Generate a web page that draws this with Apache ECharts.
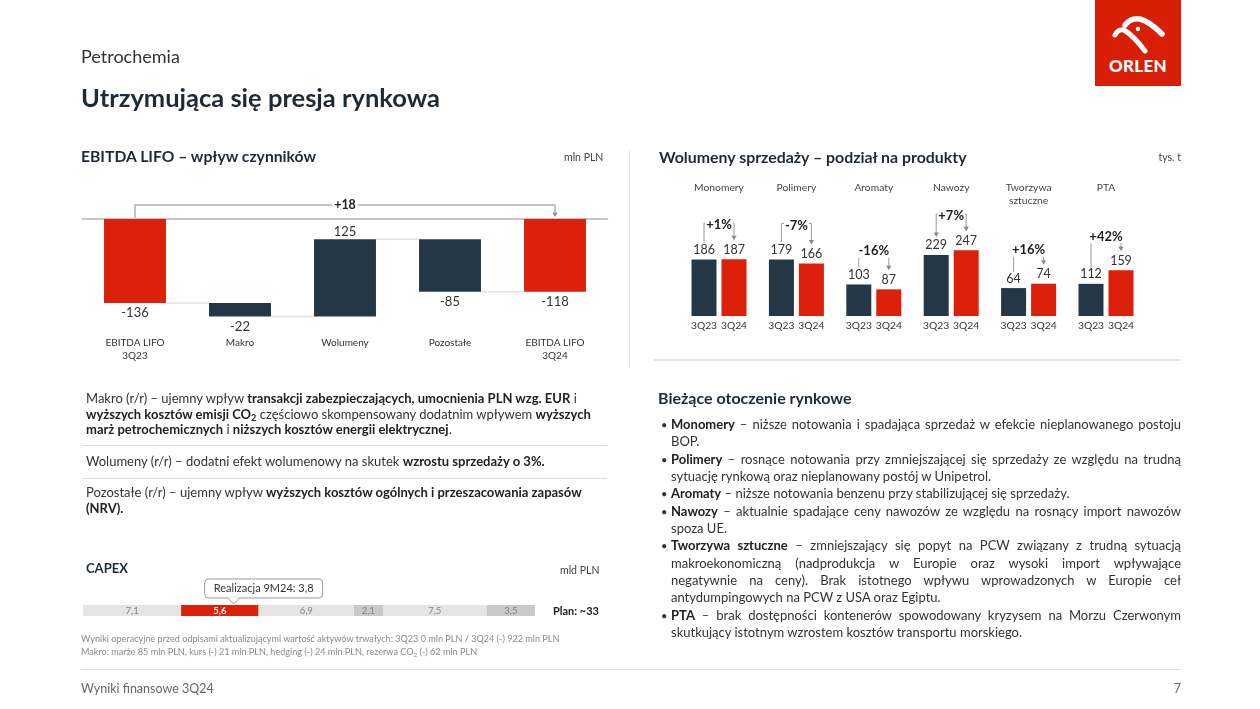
<!DOCTYPE html>
<html><head><meta charset="utf-8">
<script src="https://cdn.jsdelivr.net/npm/echarts@6.0.0/dist/echarts.min.js"></script>
<style>
html,body{margin:0;padding:0;background:#fff;}
body{width:1260px;height:709px;position:relative;overflow:hidden;font-family:Lato,"Noto Sans",sans-serif;color:#333;}
#chart{position:absolute;left:0;top:0;width:1260px;height:709px;}
.t{position:absolute;white-space:nowrap;pointer-events:none;z-index:2;}
.hline{position:absolute;height:1px;background:#dcdcdc;z-index:2;}
.jl{text-align:justify;text-align-last:justify;white-space:nowrap;}
.ll{text-align:left;white-space:nowrap;}
b{font-weight:700;color:#222;}
sub{font-size:0.7em;vertical-align:-0.25em;line-height:0;}
</style></head>
<body>
<div id="chart"></div>

<!-- header -->
<div class="t" style="left:81px;top:45px;font-size:18px;color:#333;">Petrochemia</div>
<div class="t" style="left:81px;top:82px;font-size:25.5px;font-weight:700;color:#1d2b38;">Utrzymująca się presja rynkowa</div>
<svg style="position:absolute;left:1095px;top:0;z-index:2" width="86" height="86" viewBox="0 0 86 86">
  <rect x="0" y="0" width="86" height="86" fill="#d81e05"/>
  <path d="M30 25 C34 20 39 18 45 19 C53 21 60 27 67 34" stroke="#fff" stroke-width="5.5" fill="none" stroke-linecap="round"/>
  <path d="M20 35 C22 31 25 29 29 30 C36 34 44 43 50 51" stroke="#fff" stroke-width="5" fill="none" stroke-linecap="round"/>
  <circle cx="43" cy="29" r="2.2" fill="#fff"/>
  <text x="43" y="72" text-anchor="middle" fill="#fff" font-family="Lato,'Open Sans',sans-serif" font-weight="900" font-size="17" letter-spacing="0.3">ORLEN</text>
</svg>

<!-- section titles -->
<div class="t" style="left:81px;top:147px;font-size:15.7px;font-weight:700;color:#1d2b38;">EBITDA LIFO – wpływ czynników</div>
<div class="t" style="left:564px;top:151px;font-size:10.5px;color:#444;">mln PLN</div>
<div class="t" style="left:659px;top:147px;font-size:15.9px;font-weight:700;color:#1d2b38;">Wolumeny sprzedaży – podział na produkty</div>
<div class="t" style="left:1152px;top:151px;font-size:10.5px;color:#444;width:29px;text-align:right;">tys. t</div>
<div style="position:absolute;left:629px;top:150px;width:1px;height:218px;background:#e6e6e6;"></div>
<div style="position:absolute;left:654px;top:359px;width:526px;height:2px;background:#e4e4e4;"></div>

<!-- left commentary -->
<div class="t" style="left:86px;top:391px;font-size:13px;line-height:15.5px;color:#333;">
Makro (r/r) – ujemny wpływ <b>transakcji zabezpieczających, umocnienia PLN wzg. EUR</b> i<br>
<b>wyższych kosztów emisji CO<sub>2</sub></b> częściowo skompensowany dodatnim wpływem <b>wyższych</b><br>
<b>marż petrochemicznych</b> i <b>niższych kosztów energii elektrycznej</b>.
</div>
<div class="hline" style="left:82px;top:445px;width:525px;"></div>
<div class="t" style="left:86px;top:454px;font-size:13px;line-height:15.5px;color:#333;">Wolumeny (r/r) – dodatni efekt wolumenowy na skutek <b>wzrostu sprzedaży o 3%.</b></div>
<div class="hline" style="left:82px;top:478px;width:525px;"></div>
<div class="t" style="left:86px;top:485px;font-size:13px;line-height:15.5px;color:#333;">
Pozostałe (r/r) – ujemny wpływ <b>wyższych kosztów ogólnych i przeszacowania zapasów</b><br><b>(NRV).</b>
</div>

<!-- capex -->
<div class="t" style="left:86px;top:560px;font-size:13px;font-weight:700;color:#1d2b38;">CAPEX</div>
<div class="t" style="left:560px;top:564px;font-size:10.5px;color:#444;">mld PLN</div>

<!-- footnotes -->
<div class="t" style="left:81px;top:632px;font-size:9.1px;color:#8a8a8a;line-height:13px;">
Wyniki operacyjne przed odpisami aktualizującymi wartość aktywów trwałych: 3Q23 0 mln PLN / 3Q24 (-) 922 mln PLN<br>
Makro: marże 85 mln PLN, kurs (-) 21 mln PLN, hedging (-) 24 mln PLN, rezerwa CO<sub>2</sub> (-) 62 mln PLN
</div>

<!-- right commentary -->
<div class="t" style="left:658px;top:388px;font-size:16px;font-weight:700;color:#1d2b38;">Bieżące otoczenie rynkowe</div>
<div id="bul" style="position:absolute;left:661px;top:416px;width:520px;font-size:13px;line-height:17.35px;color:#333;z-index:2;"></div>

<!-- footer -->
<div style="position:absolute;left:81px;top:669px;width:1100px;height:1px;background:#dedede;"></div>
<div class="t" style="left:81px;top:681px;font-size:12.5px;color:#666;">Wyniki finansowe 3Q24</div>
<div class="t" style="left:1150px;top:681px;width:31px;text-align:right;font-size:12.5px;color:#666;">7</div>

<script>
// ---------------- DATA ----------------
const wfCategories = ['EBITDA LIFO\n3Q23', 'Makro', 'Wolumeny', 'Pozostałe', 'EBITDA LIFO\n3Q24'];
const wfValues = [-136, -22, 125, -85, -118];
const wfIsTotal = [true, false, false, false, true];
const wfDeltaLabel = '+18';

const productGroups = ['Monomery', 'Polimery', 'Aromaty', 'Nawozy', 'Tworzywa\nsztuczne', 'PTA'];
const periods = ['3Q23', '3Q24'];
const volumes3Q23 = [186, 179, 103, 229, 64, 112];
const volumes3Q24 = [187, 166, 87, 247, 74, 159];
const volumeChange = ['+1%', '-7%', '-16%', '+7%', '+16%', '+42%'];

const capexValues = [7.1, 5.6, 6.9, 2.1, 7.5, 3.5];
const capexRealized9M24 = 3.8;
const capexPlanLabel = 'Plan: ~33';

const bullets = [
  ['<b>Monomery</b> – niższe notowania i spadająca sprzedaż w efekcie nieplanowanego postoju', 'BOP.'],
  ['<b>Polimery</b> – rosnące notowania przy zmniejszającej się sprzedaży ze względu na trudną', 'sytuację rynkową oraz nieplanowany postój w Unipetrol.'],
  ['<b>Aromaty</b> – niższe notowania benzenu przy stabilizującej się sprzedaży.'],
  ['<b>Nawozy</b> – aktualnie spadające ceny nawozów ze względu na rosnący import nawozów', 'spoza UE.'],
  ['<b>Tworzywa sztuczne</b> – zmniejszający się popyt na PCW związany z trudną sytuacją', 'makroekonomiczną (nadprodukcja w Europie oraz wysoki import wpływające', 'negatywnie na ceny). Brak istotnego wpływu wprowadzonych w Europie ceł', 'antydumpingowych na PCW z USA oraz Egiptu.'],
  ['<b>PTA</b> – brak dostępności kontenerów spowodowany kryzysem na Morzu Czerwonym', 'skutkujący istotnym wzrostem kosztów transportu morskiego.']
];

// ---------------- TEXT BLOCK ----------------
(function(){
  const box = document.getElementById('bul');
  let html = '';
  bullets.forEach(lines => {
    lines.forEach((ln, k) => {
      const last = k === lines.length - 1;
      html += '<div style="position:relative;padding-left:10px;width:510px;" class="' + (last ? 'll' : 'jl') + '">' +
        (k === 0 ? '<span style="position:absolute;left:0;top:0;font-size:11px;">•</span>' : '') + ln + '</div>';
    });
  });
  box.innerHTML = html;
})();

// ---------------- CHART ----------------
const FONT = 'Lato, "Noto Sans", sans-serif';
const RED = '#dc2009';
const NAVY = '#233746';
const chart = echarts.init(document.getElementById('chart'));

// waterfall data
let run = 0;
const wfData = wfValues.map((v, i) => {
  let lo, hi;
  if (wfIsTotal[i]) { lo = Math.min(0, v); hi = Math.max(0, v); run = v; }
  else { const s = run; run = s + v; lo = Math.min(s, run); hi = Math.max(s, run); }
  return [i, lo, hi, v, run];
});

function renderWaterfall(params, api) {
  const i = api.value(0), lo = api.value(1), hi = api.value(2), v = api.value(3), end = api.value(4);
  const top = api.coord([i, hi]);
  const bot = api.coord([i, lo]);
  const bw = api.size([1, 0])[0] * 0.59;
  const children = [{
    type: 'rect',
    shape: { x: top[0] - bw / 2, y: top[1], width: bw, height: bot[1] - top[1] },
    style: { fill: wfIsTotal[i] ? RED : NAVY }
  }];
  if (i < wfValues.length - 1) {
    const p = api.coord([i, end]);
    const q = api.coord([i + 1, end]);
    children.push({ type: 'line', shape: { x1: p[0] + bw / 2, y1: p[1], x2: q[0] - bw / 2, y2: q[1] },
      style: { stroke: '#e3e3e3', lineWidth: 1.5 } });
  }
  const ly = v < 0 ? bot[1] + 10 : top[1] - 8;
  children.push({ type: 'text', style: { text: String(v), x: top[0], y: ly, align: 'center', verticalAlign: 'middle',
    fill: '#333', fontSize: 13, fontFamily: FONT } });
  return { type: 'group', children };
}

// grouped bars layout
const gCenter0 = 719, gStep = 77.4;
const groupAxisMax = [395, 380, 392, 450, 275, 418];

const grids = [{ left: 82.5, top: 219, width: 525, height: 98.7 }];
const xAxes = [
  { type: 'category', gridIndex: 0, data: wfCategories, position: 'top',
    axisLine: { lineStyle: { color: '#b4b4b4', width: 1.5 } }, axisTick: { show: false }, axisLabel: { show: false } },
  { type: 'category', gridIndex: 0, data: wfCategories, position: 'bottom',
    axisLine: { show: false, onZero: false }, axisTick: { show: false },
    axisLabel: { margin: 19, fontSize: 10, lineHeight: 13, color: '#333', fontFamily: FONT } }
];
const yAxes = [{ type: 'value', gridIndex: 0, min: -160, max: 0, show: false }];
const series = [{
  type: 'custom', xAxisIndex: 0, yAxisIndex: 0, renderItem: renderWaterfall,
  encode: { x: 0, y: [1, 2] }, data: wfData, silent: true
}];

productGroups.forEach((g, i) => {
  const cx = gCenter0 + i * gStep;
  grids.push({ left: cx - 30, width: 60, top: 196, height: 120 });
  xAxes.push({ type: 'category', gridIndex: i + 1, data: periods,
    axisLine: { show: false }, axisTick: { show: false },
    axisLabel: { margin: 5, fontSize: 10.3, color: '#333', fontFamily: FONT, interval: 0 } });
  yAxes.push({ type: 'value', gridIndex: i + 1, min: 0, max: groupAxisMax[i], show: false });
  series.push({
    type: 'bar', xAxisIndex: i + 2, yAxisIndex: i + 1, barWidth: 25, silent: true,
    data: [
      { value: volumes3Q23[i], itemStyle: { color: NAVY } },
      { value: volumes3Q24[i], itemStyle: { color: RED } }
    ],
    label: { show: true, position: 'top', distance: 3, fontSize: 12.5, color: '#333', fontFamily: FONT }
  });
});

// capex
const capexTotal = capexValues.reduce((a, b) => a + b, 0);
const capexColors = ['#e4e4e4', RED, '#e4e4e4', '#c9c9c9', '#e4e4e4', '#c9c9c9'];
grids.push({ left: 83, top: 605, width: 452, height: 11 });
xAxes.push({ type: 'value', gridIndex: 7, min: 0, max: capexTotal, show: false });
yAxes.push({ type: 'category', gridIndex: 7, data: ['CAPEX'], show: false });
capexValues.forEach((v, k) => {
  series.push({
    type: 'bar', xAxisIndex: 8, yAxisIndex: 7, stack: 'capex', barWidth: 11, silent: true,
    data: [v], itemStyle: { color: capexColors[k] },
    label: { show: true, position: 'inside', fontSize: 9.5, fontFamily: FONT,
      color: k === 1 ? '#fff' : '#858585', fontWeight: k === 1 ? 'bold' : 'normal',
      formatter: p => String(p.value).replace('.', ',') }
  });
});

chart.setOption({
  animation: false,
  grid: grids, xAxis: xAxes, yAxis: yAxes, series: series
});

// ---------------- ANNOTATIONS (via axis scales) ----------------
const G = [];
const LINE = '#9a9a9a';
function arrow(x, y) {
  return { type: 'polygon', shape: { points: [[x - 2.6, y - 4.5], [x + 2.6, y - 4.5], [x, y]] }, style: { fill: '#888' }, z: 10 };
}
// waterfall bracket
(function () {
  const x0 = chart.convertToPixel({ xAxisIndex: 0 }, 0);
  const x4 = chart.convertToPixel({ xAxisIndex: 0 }, wfCategories.length - 1);
  const y0 = chart.convertToPixel({ yAxisIndex: 0 }, 0);
  const yb = y0 - 14;
  G.push({ type: 'polyline', shape: { points: [[x0, y0 - 1], [x0, yb], [x4, yb], [x4, y0 - 7]] },
    style: { stroke: '#b0b0b0', lineWidth: 1.5, fill: null }, z: 10 });
  G.push(arrow(x4, y0 - 2));
  G.push({ type: 'text', z: 11, style: { text: wfDeltaLabel, x: (x0 + x4) / 2, y: yb, align: 'center', verticalAlign: 'middle',
    fill: '#222', fontSize: 12.5, fontWeight: 'bold', fontFamily: FONT, backgroundColor: '#fff', padding: [1, 2] } });
})();

// group titles and change brackets
productGroups.forEach((g, i) => {
  const xa = i + 2, ya = i + 1;
  const x1 = chart.convertToPixel({ xAxisIndex: xa }, 0);
  const x2 = chart.convertToPixel({ xAxisIndex: xa }, 1);
  const t1 = chart.convertToPixel({ yAxisIndex: ya }, volumes3Q23[i]);
  const t2 = chart.convertToPixel({ yAxisIndex: ya }, volumes3Q24[i]);
  const cx = (x1 + x2) / 2;
  G.push({ type: 'text', z: 10, style: { text: g, x: cx, y: 181, align: 'center', verticalAlign: 'top',
    fill: '#444', fontSize: 10.3, lineHeight: 13, fontFamily: FONT } });
  const ty = Math.min(t1, t2) - 34;
  const bothArrows = volumeChange[i] === '+7%';
  if (i < 4) {
    const hy = ty - 2;
    G.push({ type: 'polyline', z: 10, shape: { points: [[x1, t1 - 17 - (bothArrows ? 4 : 0)], [x1, hy], [x2, hy], [x2, t2 - 23]] },
      style: { stroke: LINE, lineWidth: 1, fill: null } });
    G.push(arrow(x2, t2 - 19));
    if (bothArrows) G.push(arrow(x1, t1 - 18));
  } else {
    G.push({ type: 'line', z: 10, shape: { x1: x1, y1: ty + 7, x2: x1, y2: t1 - 16 }, style: { stroke: LINE, lineWidth: 1 } });
    G.push({ type: 'line', z: 10, shape: { x1: x2, y1: ty + 7, x2: x2, y2: t2 - 23 }, style: { stroke: LINE, lineWidth: 1 } });
    G.push(arrow(x2, t2 - 19));
  }
  G.push({ type: 'text', z: 11, style: { text: volumeChange[i], x: cx, y: ty, align: 'center', verticalAlign: 'middle',
    fill: '#222', fontSize: 13, fontWeight: 'bold', fontFamily: FONT, backgroundColor: i < 4 ? '#fff' : null, padding: [1, 1] } });
});

// capex callout
(function () {
  const px = chart.convertToPixel({ xAxisIndex: 8 }, capexValues[0] + capexRealized9M24);
  const pEnd = chart.convertToPixel({ xAxisIndex: 8 }, capexTotal);
  const bx = px - 29, by = 579, bw = 118, bh = 19;
  G.push({ type: 'rect', z: 10, shape: { x: bx, y: by, width: bw, height: bh, r: 4 }, style: { fill: '#fff', stroke: '#9a9a9a', lineWidth: 1 } });
  G.push({ type: 'polygon', z: 11, shape: { points: [[px - 6, by + bh - 0.6], [px, by + bh + 6], [px + 6, by + bh - 0.6]] }, style: { fill: '#fff' } });
  G.push({ type: 'polyline', z: 12, shape: { points: [[px - 6, by + bh], [px, by + bh + 6], [px + 6, by + bh]] }, style: { stroke: '#9a9a9a', lineWidth: 1, fill: null } });
  G.push({ type: 'text', z: 12, style: { text: 'Realizacja 9M24: ' + String(capexRealized9M24).replace('.', ','),
    x: bx + bw / 2, y: by + bh / 2, align: 'center', verticalAlign: 'middle', fill: '#333', fontSize: 11, fontFamily: FONT } });
  G.push({ type: 'text', z: 12, style: { text: capexPlanLabel, x: pEnd + 18, y: 611, align: 'left', verticalAlign: 'middle',
    fill: '#222', fontSize: 11, fontWeight: 'bold', fontFamily: FONT } });
})();

chart.setOption({ graphic: G });
</script>
</body></html>
